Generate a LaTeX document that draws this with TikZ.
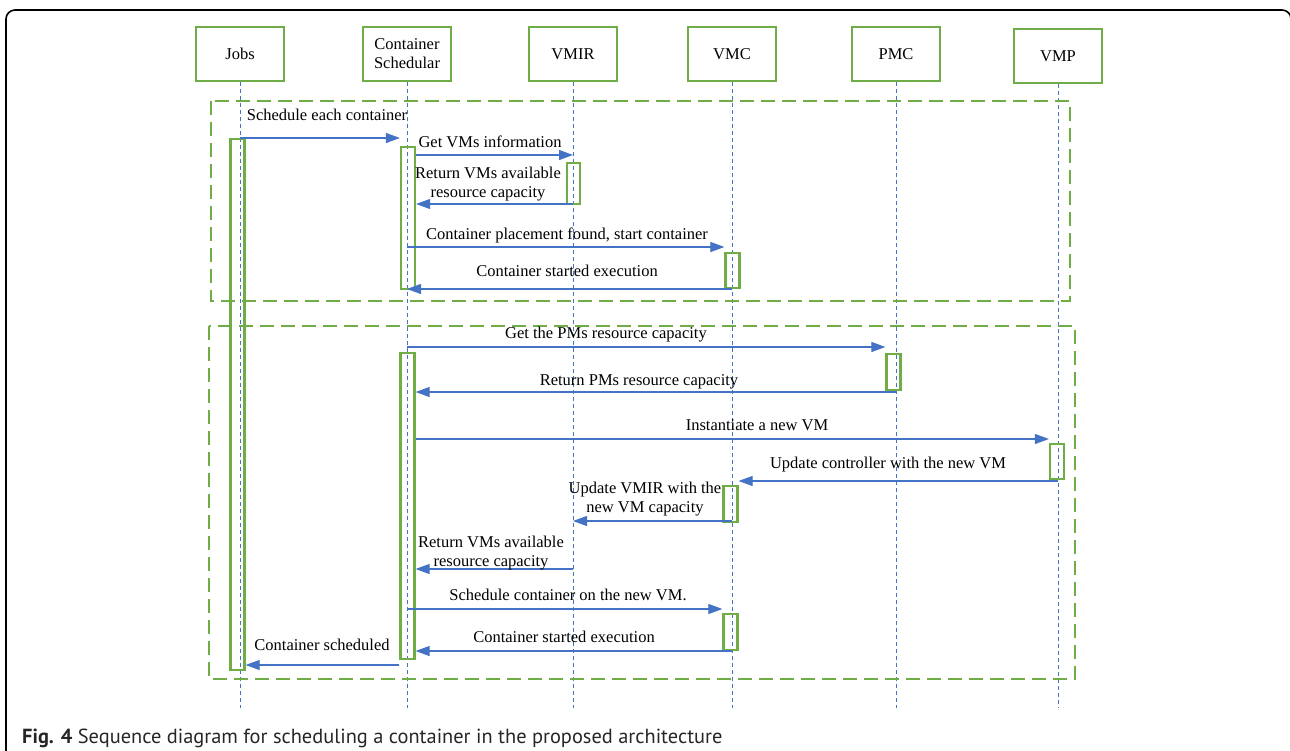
\documentclass[tikz,border=0pt]{standalone}
\usepackage{fontspec}
\setmainfont{Liberation Serif}
\newfontfamily\capfont{PT Sans}
\usetikzlibrary{arrows.meta}
\definecolor{grn}{HTML}{70AD47}
\definecolor{blu}{HTML}{4472C4}

\begin{document}
\begin{tikzpicture}[x=1pt, y=-1pt,
                head/.style={draw=grn, line width=2.4pt, minimum width=88pt, minimum height=54pt, inner sep=0pt, align=center, font=\fontsize{16.5}{19}\selectfont},
                life/.style={draw=blu, line width=0.8pt, dash pattern=on 4pt off 3pt},
                actbar/.style={draw=grn, line width=2.2pt, minimum width=14pt, inner sep=0pt, anchor=north},
                frm/.style={draw=grn, line width=2.4pt, dash pattern=on 14pt off 7pt},
                msg/.style={draw=blu, line width=1.1pt, -{Triangle[length=14pt, width=10pt]}},
                lbl/.style={inner sep=0pt, anchor=base, align=center, font=\fontsize{16.5}{19}\selectfont}]
                \useasboundingbox (0, 0) rectangle (1290, 750);
                \draw[line width=1.6pt, rounded corners=9pt] (6, 760) -- (6, 10) -- (1291, 10) -- (1291, 760);

                \node[head] (jobs) at (240, 54) {Jobs};
                \node[head] (cs) at (407, 54) {Container\\Schedular};
                \node[head] (vmir) at (573, 54) {VMIR};
                \node[head] (vmc) at (732, 54) {VMC};
                \node[head] (pmc) at (896, 54) {PMC};
                \node[head] (vmp) at (1058, 56) {VMP};
                \foreach \n in {jobs, cs, vmir, vmc, pmc, vmp}
                    \draw[life] (\n.south) -- (\n.south |- 0, 708);

                \draw[frm] (211, 101) rectangle (1070, 301);
                \draw[frm] (209, 326) rectangle (1075, 679);

                \node[actbar, minimum height=531pt] (jobsact) at (237.5, 138) {};
                \node[actbar, minimum height=142pt] (cs1) at (408, 146) {};
                \node[actbar, minimum height=41pt, minimum width=13pt] (vmir1) at (573.5, 162) {};
                \node[actbar, minimum height=35pt] (vmc1) at (732.5, 252) {};
                \node[actbar, minimum height=306pt] (cs2) at (407.5, 352) {};
                \node[actbar, minimum height=36pt] (pmc1) at (893.5, 353) {};
                \node[actbar, minimum height=35pt] (vmp1) at (1057, 443) {};
                \node[actbar, minimum height=36pt] (vmc2) at (730.5, 485) {};
                \node[actbar, minimum height=36pt] (vmc3) at (730.5, 613) {};

                \draw[msg] (jobs |- 0, 138) -- (cs1.west |- 0, 138);
                \node[lbl] (l1) at (327, 120) {Schedule each container};
                \draw[msg] (cs1.east |- 0, 155) -- (vmir |- 0, 155);
                \node[lbl] (l2) at (490, 147) {Get VMs information};
                \draw[msg] (vmir |- 0, 204) -- (cs1.east |- 0, 204);
                \node[lbl] (l3) at (488, 197) {Return VMs available\\resource capacity};
                \draw[msg] (cs |- 0, 247) -- (vmc1.west |- 0, 247);
                \node[lbl] (l4) at (567, 239) {Container placement found, start container};
                \draw[msg] (vmc |- 0, 289) -- (cs |- 0, 289);
                \node[lbl] (l5) at (567, 276) {Container started execution};

                \draw[msg] (cs |- 0, 347) -- (pmc1.west |- 0, 347);
                \node[lbl] (l6) at (606, 338) {Get the PMs resource capacity};
                \draw[msg] (pmc |- 0, 392) -- (cs2.east |- 0, 392);
                \node[lbl] (l7) at (639, 385) {Return PMs resource capacity};
                \draw[msg] (cs2.east |- 0, 439) -- (vmp1.west |- 0, 439);
                \node[lbl] (l8) at (757, 430) {Instantiate a new VM};
                \draw[msg] (vmp |- 0, 481) -- (vmc2.east |- 0, 481);
                \node[lbl] (l9) at (888, 468) {Update controller with the new VM};
                \draw[msg] (vmc |- 0, 521) -- (vmir |- 0, 521);
                \node[lbl] (l10) at (645, 512) {Update VMIR with the\\new VM capacity};
                \draw[msg] (vmir |- 0, 569) -- (cs2.east |- 0, 569);
                \node[lbl] (l11) at (491, 566) {Return VMs available\\resource capacity};
                \draw[msg] (cs |- 0, 609) -- (vmc3.west |- 0, 609);
                \node[lbl] (l12) at (568, 600) {Schedule container on the new VM.};
                \draw[msg] (vmc |- 0, 651) -- (cs2.east |- 0, 651);
                \node[lbl] (l13) at (564, 642) {Container started execution};
                \draw[msg] (cs2.west |- 0, 665) -- (jobsact.east |- 0, 665);
                \node[lbl] (l14) at (322, 650) {Container scheduled};

                \node[inner sep=0pt, anchor=base west, text=black!85, font=\capfont\fontsize{20.4}{24}\selectfont] (cap) at (22, 743) {\textbf{Fig. 4} Sequence diagram for scheduling a container in the proposed architecture};
\end{tikzpicture}
\end{document}
